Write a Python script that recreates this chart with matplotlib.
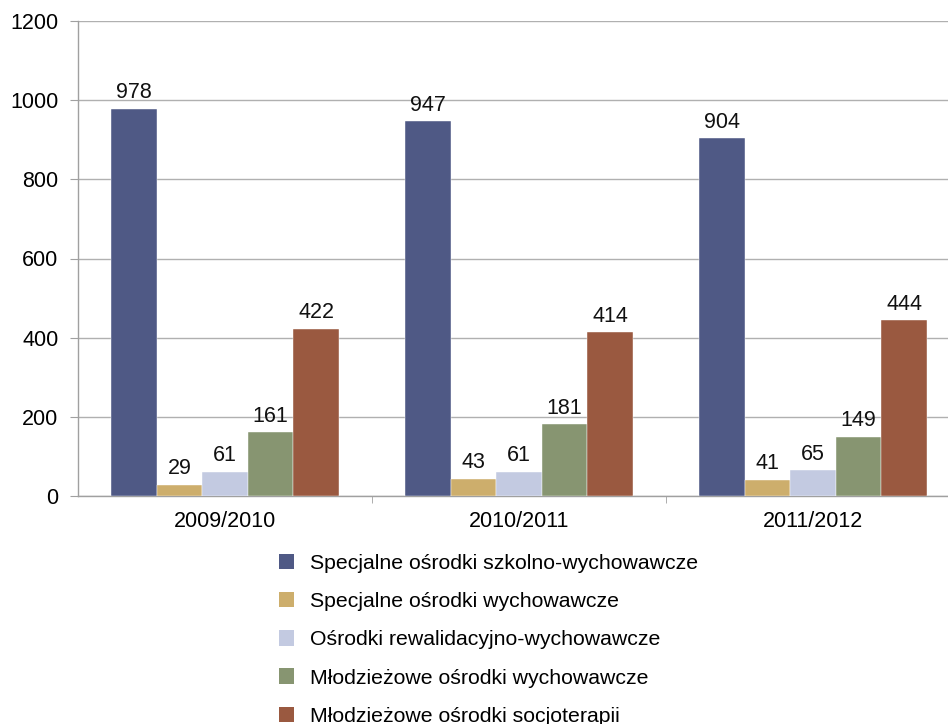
import numpy as np
import matplotlib.pyplot as plt
from matplotlib.patches import Patch

plt.rcParams['font.family'] = ['Liberation Sans', 'DejaVu Sans']

years = ['2009/2010', '2010/2011', '2011/2012']
series_names = [
    'Specjalne ośrodki szkolno-wychowawcze',
    'Specjalne ośrodki wychowawcze',
    'Ośrodki rewalidacyjno-wychowawcze',
    'Młodzieżowe ośrodki wychowawcze',
    'Młodzieżowe ośrodki socjoterapii',
]
szkolno_wych = [978, 947, 904]
specjalne_wych = [29, 43, 41]
rewalidacyjno = [61, 61, 65]
mlodziezowe_wych = [161, 181, 149]
socjoterapii = [422, 414, 444]
series_values = [szkolno_wych, specjalne_wych, rewalidacyjno, mlodziezowe_wych, socjoterapii]
colors = ['#4F5985', '#CDAE6C', '#C3CAE1', '#879571', '#9A5940']

fig = plt.figure(figsize=(9.48, 7.24), dpi=100)
ax = fig.add_axes([78 / 948, 1 - 496 / 724, 882 / 948, 475 / 724])

x = np.arange(len(years))
w = 0.155
for i, (vals, col) in enumerate(zip(series_values, colors)):
    pos = x + (i - 2) * w
    bars = ax.bar(pos, vals, width=w, color=col, edgecolor='white', linewidth=0.3, zorder=3)
    for b, v in zip(bars, vals):
        ax.annotate(str(v), (b.get_x() + b.get_width() / 2, v), xytext=(0, 4),
                    textcoords='offset points', ha='center', va='bottom',
                    fontsize=15.5, color='#111111', zorder=4)

ax.set_xlim(-0.5, 2.5)
ax.set_ylim(0, 1200)
ax.set_yticks(range(0, 1201, 200))
ax.yaxis.grid(True, color='#B0B0B0', linewidth=1.0, zorder=0)
ax.set_axisbelow(True)

ax.set_xticks(x)
ax.set_xticklabels(years, fontsize=15.5)
ax.set_xticks([0.5, 1.5], minor=True)
ax.tick_params(axis='x', which='major', length=0, pad=11)
ax.tick_params(axis='x', which='minor', length=5, color='#A0A0A0')
ax.tick_params(axis='y', length=6, color='#A0A0A0', labelsize=15.5, pad=8)

for s in ['top', 'right']:
    ax.spines[s].set_visible(False)
ax.spines['left'].set_color('#A0A0A0')
ax.spines['bottom'].set_color('#A0A0A0')
ax.spines['left'].set_linewidth(1.0)
ax.spines['bottom'].set_linewidth(1.0)

handles = [Patch(facecolor=c, edgecolor='none') for c in colors]
fig.legend(handles, series_names, loc='upper left', bbox_to_anchor=(270 / 948, 1 - 545 / 724),
           frameon=False, fontsize=15.3, handlelength=0.75, handleheight=0.75,
           handletextpad=0.75, labelspacing=0.9, borderaxespad=0)

fig.savefig('out.png', dpi=100)
